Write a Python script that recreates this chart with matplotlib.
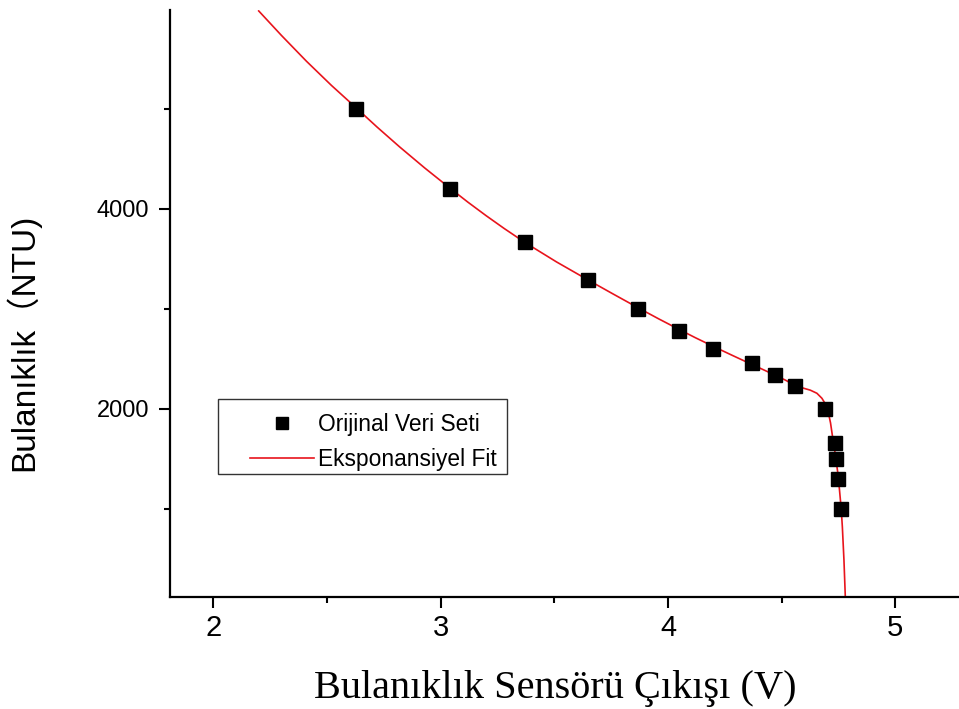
import matplotlib.pyplot as plt
from matplotlib.patches import Rectangle
from matplotlib.ticker import MultipleLocator

# measured turbidity vs. sensor output voltage
volt = [2.63, 3.04, 3.37, 3.65, 3.87, 4.05, 4.20, 4.37, 4.47, 4.56,
        4.69, 4.733, 4.741, 4.750, 4.763]
ntu = [5000, 4200, 3670, 3290, 3000, 2780, 2600, 2460, 2340, 2230,
       2000, 1660, 1500, 1300, 1000]

# exponential fit curve, sampled along its length
fit_v = [2.20, 2.30, 2.41, 2.52, 2.63, 2.72, 2.82, 2.93, 3.04, 3.12,
         3.20, 3.28, 3.37, 3.51, 3.65, 3.76, 3.87, 3.96, 4.05, 4.12,
         4.20, 4.28, 4.37, 4.42, 4.47, 4.515, 4.56, 4.60, 4.626, 4.655,
         4.677, 4.695, 4.706, 4.715, 4.724, 4.735, 4.747, 4.754, 4.762,
         4.767, 4.774, 4.78]
fit_ntu = [5980, 5735, 5477, 5235, 5008, 4820, 4620, 4410, 4210, 4068,
           3933, 3804, 3666, 3470, 3288, 3148, 3010, 2900, 2794, 2713,
           2625, 2539, 2444, 2392, 2339, 2290, 2236, 2205, 2188, 2157,
           2107, 2040, 1957, 1860, 1720, 1560, 1360, 1200, 1000,
           820, 490, 120]

fig = plt.figure(figsize=(9.59, 7.09), dpi=100)
ax = fig.add_axes([0.1773, 0.158, 0.8227, 0.828])

ax.plot(volt, ntu, 's', color='black', ms=10, label='Orijinal Veri Seti', zorder=3)
ax.plot(fit_v, fit_ntu, '-', color='#e8141c', lw=1.2, label='Eksponansiyel Fit', zorder=2)

ax.set_xlim(1.81, 5.28)
ax.set_ylim(120, 5990)

for s in ['top', 'right']:
    ax.spines[s].set_visible(False)
for s in ['left', 'bottom']:
    ax.spines[s].set_linewidth(1.6)

ax.xaxis.set_major_locator(MultipleLocator(1))
ax.xaxis.set_minor_locator(MultipleLocator(0.5))
ax.yaxis.set_major_locator(MultipleLocator(2000))
ax.yaxis.set_minor_locator(MultipleLocator(1000))
ax.tick_params(which='major', direction='out', length=8, width=1.5)
ax.tick_params(which='minor', direction='out', length=4.5, width=1.5)
ax.tick_params(axis='x', pad=4)
ax.tick_params(axis='y', pad=7)

for lab in ax.get_xticklabels():
    lab.set_family(['Liberation Sans Narrow', 'Liberation Sans'])
    lab.set_fontsize(21)
for lab in ax.get_yticklabels():
    lab.set_family('Liberation Sans')
    lab.set_fontsize(17)

ax.set_xlabel('Bulanıklık Sensörü Çıkışı (V)', family='Liberation Serif', fontsize=29)
ax.xaxis.set_label_coords(0.488, -0.125)
ax.set_ylabel('Bulanıklık（NTU)', family=['Liberation Sans', 'Noto Sans CJK SC'],
              fontsize=24)
ax.yaxis.set_label_coords(-0.165, 0.434)

# legend box drawn separately so the entries can sit with a wide left margin
ax.add_patch(Rectangle((0.0608, 0.2095), 0.3663, 0.1278, transform=ax.transAxes,
                       fill=True, facecolor='white', edgecolor='#333333',
                       lw=1.0, zorder=4))
leg = ax.legend(loc='upper left', bbox_to_anchor=(0.1014, 0.3135), borderaxespad=0,
                prop={'family': 'Liberation Sans', 'size': 16.4},
                handlelength=2.8, handletextpad=0.2, borderpad=0,
                labelspacing=0.55, frameon=False, markerscale=0.85)
leg.set_zorder(5)

fig.savefig('out.png', dpi=100)
